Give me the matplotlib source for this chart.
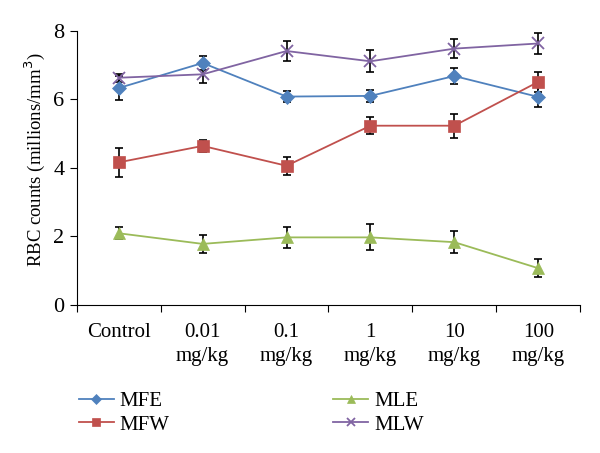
import numpy as np
import matplotlib.pyplot as plt

plt.rcParams['font.family'] = ['Liberation Serif', 'DejaVu Serif']

doses = ["Control", "0.01\nmg/kg", "0.1\nmg/kg", "1\nmg/kg", "10\nmg/kg", "100\nmg/kg"]

mfe = [6.33, 7.06, 6.08, 6.10, 6.68, 6.07]
mfe_err = [0.35, 0.20, 0.17, 0.18, 0.22, 0.30]
mfw = [4.16, 4.64, 4.06, 5.23, 5.23, 6.51]
mfw_err = [0.43, 0.18, 0.27, 0.25, 0.35, 0.30]
mle = [2.09, 1.78, 1.97, 1.97, 1.83, 1.07]
mle_err = [0.18, 0.27, 0.30, 0.38, 0.33, 0.26]
mlw = [6.63, 6.73, 7.41, 7.11, 7.48, 7.63]
mlw_err = [0.12, 0.25, 0.30, 0.32, 0.27, 0.30]

series = [
    ("MFE", mfe, mfe_err, "#4F81BD", "D", 7),
    ("MFW", mfw, mfw_err, "#C0504D", "s", 9),
    ("MLE", mle, mle_err, "#9BBB59", "^", 9),
    ("MLW", mlw, mlw_err, "#8064A2", "x", 9),
]

x = np.arange(len(doses))

fig = plt.figure(figsize=(6, 4.53), dpi=100)
ax = fig.add_axes([0.128, 0.327, 0.839, 0.605])

handles = []
for name, vals, err, col, mk, ms in series:
    ax.errorbar(x, vals, yerr=err, fmt="none", ecolor="black", elinewidth=1.2,
                capsize=3, capthick=1.2, zorder=2)
    h, = ax.plot(x, vals, color=col, marker=mk, markersize=ms, linewidth=1.3,
                 markeredgewidth=1.3 if mk == "x" else 0.5, zorder=3, label=name)
    handles.append(h)

ax.set_xlim(-0.5, len(doses) - 0.5)
ax.set_ylim(0, 8)
ax.set_yticks([0, 2, 4, 6, 8])
ax.tick_params(axis="y", labelsize=16, direction="out", length=5, pad=4)
ax.set_xticks(np.arange(len(doses) + 1) - 0.5)
ax.set_xticklabels([])
ax.set_xticks(x, minor=True)
ax.set_xticklabels(doses, minor=True, fontsize=15, linespacing=1.35)
ax.tick_params(axis="x", which="major", direction="out", length=5)
ax.tick_params(axis="x", which="minor", length=0, pad=13)
ax.spines["top"].set_visible(False)
ax.spines["right"].set_visible(False)
ax.set_ylabel("RBC counts (millions/mm$^3$)", fontsize=13.5)
ax.yaxis.set_label_coords(-0.06, 0.53)

fig.legend(handles=handles, loc="upper left", bbox_to_anchor=(0.132, 0.136), ncol=2,
           frameon=False, fontsize=15, handlelength=1.65, handletextpad=0.3,
           columnspacing=7.85, labelspacing=0.2, markerscale=0.7,
           borderaxespad=0, borderpad=0)

fig.savefig("out.png", dpi=100)
